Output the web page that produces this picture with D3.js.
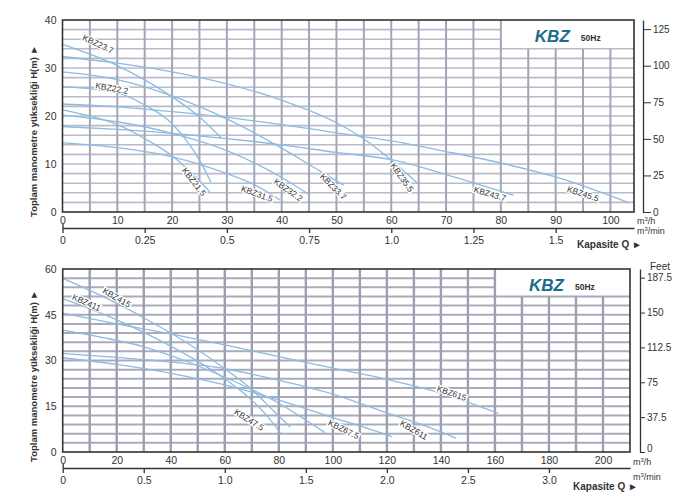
<!DOCTYPE html>
<html lang="tr">
<head>
<meta charset="UTF-8" />
<title>KBZ 50Hz</title>
<script src="https://d3js.org/d3.v7.min.js"></script>
<style>
  body { margin: 0; background: #fff; }
  text { font-family: "Liberation Sans", Arial, sans-serif; fill: #333; }
</style>
</head>
<body>
<svg id="chart" width="691" height="504"></svg>
<script>
// ---- top panel: 2", 3", 4" models (Q in m3/h, H in m) ----
var kbz21_5 = [[0, 21.3], [5, 20], [10, 18.2], [15, 15.3], [20, 11.7], [24, 7.6], [26.9, 4.2]];
var kbz22_2 = [[0, 26.1], [10, 24.8], [15, 22.3], [20, 18.4], [25, 10.8], [27.1, 6.2]];
var kbz23_7 = [[0, 34.9], [10, 30.5], [20, 24], [25, 19.8], [29, 15.4]];
var kbz31_5 = [[0, 14.4], [10, 13.4], [20, 11.5], [30, 8], [35, 5.7], [39.7, 2.5]];
var kbz32_2 = [[0, 20.2], [10, 18.8], [20, 16.4], [30, 12.8], [40, 7.2], [45.2, 3.5]];
var kbz33_7 = [[0, 29.2], [10, 27.6], [20, 24.2], [30, 19.4], [40, 13.3], [45, 9.9], [51.3, 5.6]];
var kbz35_5 = [[0, 32.4], [10, 31], [20, 29.2], [30, 26.7], [40, 23.3], [50, 18.6], [55, 15.2], [60, 10.8], [64.8, 6]];
var kbz43_7 = [[0, 17.8], [10, 17.2], [20, 16.4], [30, 15.3], [40, 14], [50, 12.4], [60, 10.9], [70, 7.8], [82.3, 3.5]];
var kbz45_5 = [[0, 22.5], [10, 21.9], [20, 20.9], [30, 19.7], [40, 18.2], [50, 16.5], [60, 14.8], [70, 12.6], [80, 10.2], [90, 7.3], [103.4, 1.9]];

// ---- bottom panel: 4", 6" models ----
var kbz47_5 = [[0, 40], [15, 37.5], [30, 34.5], [45, 30], [60, 24.5], [70, 20.5], [80, 16], [90, 10.5], [97.2, 6.3]];
var kbz411 = [[0, 50.3], [10, 47], [20, 43.3], [30, 39.2], [40, 34.7], [50, 29.7], [60, 24], [68, 18.5], [75, 12.5], [80.6, 6.3]];
var kbz415 = [[0, 56.9], [10, 53], [20, 48.8], [30, 44], [40, 39], [50, 33.5], [60, 27.3], [70, 20.5], [78, 13.5], [84.3, 8.1]];
var kbz67_5 = [[0, 30.9], [20, 28.7], [40, 25.8], [60, 22], [80, 17], [100, 11.3], [112, 8], [122, 5]];
var kbz611 = [[0, 32.3], [20, 31], [40, 29.5], [60, 27.3], [80, 23.5], [100, 19], [120, 12.8], [135, 8.3], [145.7, 4.5]];
var kbz615 = [[0, 45.5], [20, 42], [40, 38.7], [60, 35.1], [80, 31.3], [100, 27.5], [120, 23.8], [140, 19.3], [150, 16.3], [161.3, 12.7]];

// tick labels
var topQTicks = [0, 10, 20, 30, 40, 50, 60, 70, 80, 90, 100];
var topHTicks = [0, 10, 20, 30, 40];
var topMinTicks = [0, 0.25, 0.5, 0.75, 1.0, 1.25, 1.5];
var topFeetTicks = [0, 25, 50, 75, 100, 125];
var botQTicks = [0, 20, 40, 60, 80, 100, 120, 140, 160, 180, 200];
var botHTicks = [0, 15, 30, 45, 60];
var botMinTicks = [0, 0.5, 1.0, 1.5, 2.0, 2.5, 3.0];
var botFeetTicks = [0, 37.5, 75, 112.5, 150, 187.5];

var topSeries = [
  { name: "KBZ21.5", data: kbz21_5 }, { name: "KBZ22.2", data: kbz22_2 },
  { name: "KBZ23.7", data: kbz23_7 }, { name: "KBZ31.5", data: kbz31_5 },
  { name: "KBZ32.2", data: kbz32_2 }, { name: "KBZ33.7", data: kbz33_7 },
  { name: "KBZ35.5", data: kbz35_5 }, { name: "KBZ43.7", data: kbz43_7 },
  { name: "KBZ45.5", data: kbz45_5 }
];
var botSeries = [
  { name: "KBZ47.5", data: kbz47_5 }, { name: "KBZ411", data: kbz411 },
  { name: "KBZ415", data: kbz415 }, { name: "KBZ67.5", data: kbz67_5 },
  { name: "KBZ611", data: kbz611 }, { name: "KBZ615", data: kbz615 }
];

// label placement: [name, Q, H, angle]
var topLabelPos = [
  ["KBZ23.7", 6.5, 35, 25], ["KBZ22.2", 9, 25.8, 10], ["KBZ21.5", 24, 6.3, 52],
  ["KBZ31.5", 35.5, 3.8, 20], ["KBZ32.2", 41.2, 4.6, 35], ["KBZ33.7", 49.4, 5.3, 45],
  ["KBZ35.5", 62, 7.2, 55], ["KBZ43.7", 78, 3.8, 16], ["KBZ45.5", 95, 3.8, 18]
];
var botLabelPos = [
  ["KBZ415", 20, 50.6, 30], ["KBZ411", 8.8, 49, 24], ["KBZ47.5", 69, 10.6, 32],
  ["KBZ67.5", 104, 7.4, 26], ["KBZ611", 130, 7.2, 30], ["KBZ615", 144, 19.3, 19]
];

var svg = d3.select("#chart");

function drawPanel(p) {
  var x = d3.scaleLinear().domain([0, p.qMax]).range([p.left, p.right]);
  var y = d3.scaleLinear().domain([0, p.hMax]).range([p.bottom, p.top]);
  var feet = d3.scaleLinear().domain([0, p.hMax / 0.3048]).range([p.bottom, p.top]);
  var g = svg.append("g");

  // grid
  var hLines = d3.range(p.hStep, p.hMax, p.hStep);
  g.selectAll(".hg").data(hLines).enter().append("line")
    .attr("x1", p.left).attr("x2", function (h) { return h > p.boxH ? x(p.boxQ) : p.right; })
    .attr("y1", function (h) { return y(h); }).attr("y2", function (h) { return y(h); })
    .attr("stroke", p.hColor).attr("stroke-width", p.hWidth);
  var vLines = d3.range(p.qStep, p.qMax, p.qStep);
  g.selectAll(".vg").data(vLines).enter().append("line")
    .attr("x1", function (q) { return x(q); }).attr("x2", function (q) { return x(q); })
    .attr("y1", p.bottom).attr("y2", function (q) { return q > p.boxQ ? y(p.boxH) : p.top; })
    .attr("stroke", p.vColor).attr("stroke-width", p.vWidth);

  // curves
  var line = d3.line()
    .x(function (d) { return x(d[0]); })
    .y(function (d) { return y(d[1]); })
    .curve(d3.curveMonotoneX);
  g.selectAll(".curve").data(p.series).enter().append("path")
    .attr("d", function (s) { return line(s.data); })
    .attr("fill", "none").attr("stroke", "#8dbbe0").attr("stroke-width", 1.3);

  // curve labels
  p.labels.forEach(function (l) {
    var lg = g.append("g")
      .attr("transform", "translate(" + x(l[1]) + "," + y(l[2]) + ") rotate(" + l[3] + ")");
    var t = lg.append("text").attr("text-anchor", "middle").attr("dy", "0.35em")
      .style("font-size", "8.5px").text(l[0]);
    var b = t.node().getBBox();
    lg.insert("rect", "text").attr("x", b.x - 1).attr("y", b.y + 1)
      .attr("width", b.width + 2).attr("height", b.height - 2).attr("fill", "#fff");
  });

  // frame
  g.append("rect").attr("x", p.left).attr("y", p.top)
    .attr("width", p.right - p.left).attr("height", p.bottom - p.top)
    .attr("fill", "none").attr("stroke", "#333").attr("stroke-width", 1.6);

  // KBZ badge
  g.append("text").attr("x", x(p.boxQ) + 34).attr("y", p.top + 22)
    .style("font-size", "17px").style("font-weight", "bold").style("font-style", "italic")
    .style("fill", "#1a6d88").text("KBZ");
  g.append("text").attr("x", x(p.boxQ) + 80).attr("y", p.top + 21)
    .style("font-size", "8.5px").style("font-weight", "bold").text("50Hz");

  // left H labels
  var ya = g.append("g").attr("transform", "translate(" + (p.left - 4) + ",0)")
    .call(d3.axisLeft(y).tickValues(p.hTicks).tickSize(0).tickPadding(2));
  ya.select(".domain").remove();
  ya.selectAll("text").style("font-size", "10.5px").style("fill", "#333");

  // Q labels m3/h
  var xa = g.append("g").attr("transform", "translate(0," + (p.bottom + 3) + ")")
    .call(d3.axisBottom(x).tickValues(p.qTicks).tickSize(0).tickPadding(2));
  xa.select(".domain").remove();
  xa.selectAll("text").style("font-size", "10.5px").style("fill", "#333");

  // m3/min axis
  var xm = d3.scaleLinear().domain([0, p.qMax / 60]).range([p.left, p.right]);
  var ma = g.append("g").attr("transform", "translate(0," + p.minY + ")")
    .call(d3.axisBottom(xm).tickValues(p.minTicks).tickSize(5).tickSizeOuter(0).tickPadding(4)
      .tickFormat(function (d) { return d === 0 ? "0" : (d % 1 === 0 ? d3.format(".1f")(d) : String(d)); }));
  ma.select(".domain").attr("stroke", "#333").attr("stroke-width", 1.3);
  ma.selectAll(".tick line").attr("stroke", "#333").attr("stroke-width", 1.3)
    .attr("y1", function (d) { return d === 0 ? -4 : 0; });
  ma.selectAll("text").style("font-size", "10.5px").style("fill", "#333");

  // feet axis
  var fa = g.append("g").attr("transform", "translate(" + p.feetX + ",0)")
    .call(d3.axisRight(feet).tickValues(p.feetTicks).tickSize(p.feetTick).tickSizeOuter(0).tickPadding(2)
      .tickFormat(function (d) { return String(d); }));
  fa.select(".domain").attr("stroke", "#333").attr("stroke-width", 1.3);
  fa.selectAll(".tick line").attr("stroke", "#333").attr("stroke-width", 1);
  fa.selectAll("text").style("font-size", "10px").style("fill", "#333")
    .attr("dy", function (d) { return d === 0 ? p.feetZeroDy : "0.32em"; });

  // units
  var u1 = g.append("text").attr("x", p.right + 3).attr("y", p.bottom + p.unit1Dy).style("font-size", "9px");
  u1.append("tspan").text("m");
  u1.append("tspan").attr("dy", -3).style("font-size", "6px").text("3");
  u1.append("tspan").attr("dy", 3).text("/h");
  var u2 = g.append("text").attr("x", p.right + 3).attr("y", p.minY + p.unit2Dy).style("font-size", "9px");
  u2.append("tspan").text("m");
  u2.append("tspan").attr("dy", -3).style("font-size", "6px").text("3");
  u2.append("tspan").attr("dy", 3).text("/min");
  g.append("text").attr("x", p.right - 57).attr("y", p.kapY)
    .style("font-size", "10px").style("font-weight", "bold").text("Kapasite Q   \u25BA");

  // y title
  g.append("text")
    .attr("transform", "translate(37," + p.titleY + ") rotate(-90)")
    .attr("text-anchor", "middle")
    .style("font-size", "9.5px").style("font-weight", "bold")
    .text("Toplam manometre y\u00fcksekli\u011fi  H(m)  \u25BA");

  if (p.feetTitle) {
    g.append("text").attr("x", p.feetX + 10).attr("y", p.top + 1)
      .style("font-size", "10px").text("Feet");
  }
}

drawPanel({
  left: 62.5, right: 634, top: 20, bottom: 212, qMax: 104.3, hMax: 40,
  qStep: 5, hStep: 2, boxQ: 80, boxH: 34,
  vColor: "#a3a5b8", vWidth: 2, hColor: "#b9bbca", hWidth: 1.6,
  series: topSeries, labels: topLabelPos,
  hTicks: topHTicks, qTicks: topQTicks, minTicks: topMinTicks, minY: 228,
  feetTicks: topFeetTicks, feetX: 643, feetTick: 8, feetZeroDy: "0.32em",
  unit1Dy: 12, unit2Dy: 6, kapY: 248, titleY: 131, feetTitle: false
});

drawPanel({
  left: 62.7, right: 630, top: 269, bottom: 452, qMax: 210, hMax: 60,
  qStep: 10, hStep: 3, boxQ: 160, boxH: 51,
  vColor: "#9c9eb2", vWidth: 2.4, hColor: "#a9abbd", hWidth: 2,
  series: botSeries, labels: botLabelPos,
  hTicks: botHTicks, qTicks: botQTicks, minTicks: botMinTicks, minY: 468,
  feetTicks: botFeetTicks, feetX: 640, feetTick: 5, feetZeroDy: "-0.1em",
  unit1Dy: 13, unit2Dy: 12, kapY: 490, titleY: 376, feetTitle: true
});
</script>
</body>
</html>
